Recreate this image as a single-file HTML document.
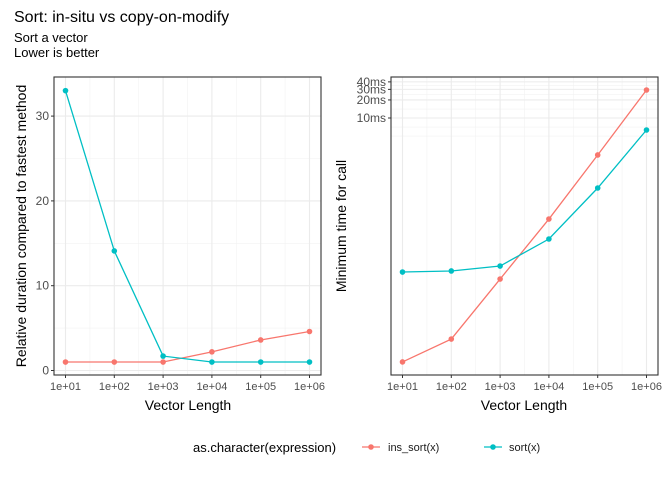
<!DOCTYPE html>
<html><head><meta charset="utf-8"><style>
body{margin:0;background:#fff}
svg{display:block;font-family:"Liberation Sans",sans-serif}
</style></head><body>
<svg id="c" width="672" height="480" viewBox="0 0 672 480">
<text x="14" y="22" font-size="16" fill="#000">Sort: in-situ vs copy-on-modify</text>
<text x="14" y="42" font-size="13" fill="#000">Sort a vector</text>
<text x="14" y="57" font-size="13" fill="#000">Lower is better</text>
<g id="left"></g>
<g id="right"></g>
<text x="188" y="410" font-size="14" text-anchor="middle">Vector Length</text>
<text x="524" y="410" font-size="14" text-anchor="middle">Vector Length</text>
<text transform="translate(26,226) rotate(-90)" font-size="14" text-anchor="middle">Relative duration compared to fastest method</text>
<text transform="translate(346,226) rotate(-90)" font-size="14" text-anchor="middle">Minimum time for call</text>
<g>
<text x="193" y="452" font-size="13">as.character(expression)</text>
<g>
<line x1="362" y1="447" x2="380" y2="447" stroke="#F8766D" stroke-width="1.3"/><circle cx="371" cy="447" r="2.8" fill="#F8766D"/>
<text x="388" y="451" font-size="11" fill="#1a1a1a">ins_sort(x)</text></g>
<g>
<line x1="484" y1="447" x2="502" y2="447" stroke="#00BFC4" stroke-width="1.3"/><circle cx="493" cy="447" r="2.8" fill="#00BFC4"/>
<text x="509" y="451" font-size="11" fill="#1a1a1a">sort(x)</text></g>
</g>
</svg>
<script>
const categories = ["1e+01","1e+02","1e+03","1e+04","1e+05","1e+06"];
const relIns = [1, 1, 1, 2.2, 3.6, 4.6];
const relSort = [33, 14.1, 1.7, 1, 1, 1];
const timeIns = [0.00086, 0.00207, 0.0207, 0.207, 2.42, 29.3];   // ms
const timeSort = [0.0271, 0.0282, 0.0341, 0.0962, 0.681, 6.31];  // ms
const relTicks = [0, 10, 20, 30];
const timeTicks = [10, 20, 30, 40];
const timeTickLabels = ["10ms","20ms","30ms","40ms"];
const timeMinor = [5, 7.07, 14.1, 24.5, 34.6];

const NS = "http://www.w3.org/2000/svg";
function mk(parent, tag, attrs){const e=document.createElementNS(NS,tag);for(const k in attrs)e.setAttribute(k,attrs[k]);parent.appendChild(e);return e;}

function panel(g, x0, x1, y0, y1, yScale, ticks, tickLabels, minorH, s1, s2, label){
  const xs = i => x0 + 11.5 + i*(x1-x0-23)/(categories.length-1);
  // minor vertical grid
  for(let i=0;i<categories.length-1;i++){
    const l=mk(g,"line",{x1:(xs(i)+xs(i+1))/2,x2:(xs(i)+xs(i+1))/2,y1:y0,y2:y1,stroke:"#f2f2f2","stroke-width":0.6});
    
    
  }
  minorH.forEach(v=>{const y=yScale(v);
    const l=mk(g,"line",{x1:x0,x2:x1,y1:y,y2:y,stroke:"#f2f2f2","stroke-width":0.6});
    
    });
  categories.forEach((c,i)=>{
    const l=mk(g,"line",{x1:xs(i),x2:xs(i),y1:y0,y2:y1,stroke:"#ebebeb","stroke-width":1.1});
    
    
    mk(g,"line",{x1:xs(i),x2:xs(i),y1:y1,y2:y1+3,stroke:"#333","stroke-width":1});
    const t=mk(g,"text",{x:xs(i),y:y1+15,"font-size":11,"text-anchor":"middle",fill:"#4d4d4d"});
    t.textContent=c;
    
    
  });
  ticks.forEach((v,i)=>{const y=yScale(v);
    const l=mk(g,"line",{x1:x0,x2:x1,y1:y,y2:y,stroke:"#ebebeb","stroke-width":1.1});
    
    
    mk(g,"line",{x1:x0-3,x2:x0,y1:y,y2:y,stroke:"#333","stroke-width":1});
    const t=mk(g,"text",{x:x0-5,y:y+4,"font-size":12,"text-anchor":"end",fill:"#4d4d4d"});
    t.textContent=tickLabels[i];
    
    
  });
  const fr=mk(g,"rect",{x:x0,y:y0,width:x1-x0,height:y1-y0,fill:"none",stroke:"#333","stroke-width":1.1});
  
  
  [[s1,"#F8766D","ins-sort"],[s2,"#00BFC4","sort"]].forEach(([d,col,n])=>{
    const p=mk(g,"polyline",{points:d.map((v,i)=>xs(i)+","+yScale(v)).join(" "),fill:"none",stroke:col,"stroke-width":1.3});
    
    
    d.forEach((v,i)=>{const c=mk(g,"circle",{cx:xs(i),cy:yScale(v),r:2.8,fill:col});
      
      });
  });
}
const relY = v => 370.5 - v*8.48;
panel(document.getElementById("left"),54,321,77,375,relY,relTicks,relTicks.map(String),[5,15,25],relIns,relSort,"relative");
const timeY = v => 118 - 60*Math.log10(v/10);
panel(document.getElementById("right"),391,658,77,375,timeY,timeTicks,timeTickLabels,timeMinor,timeIns,timeSort,"time");
</script>
</body></html>
